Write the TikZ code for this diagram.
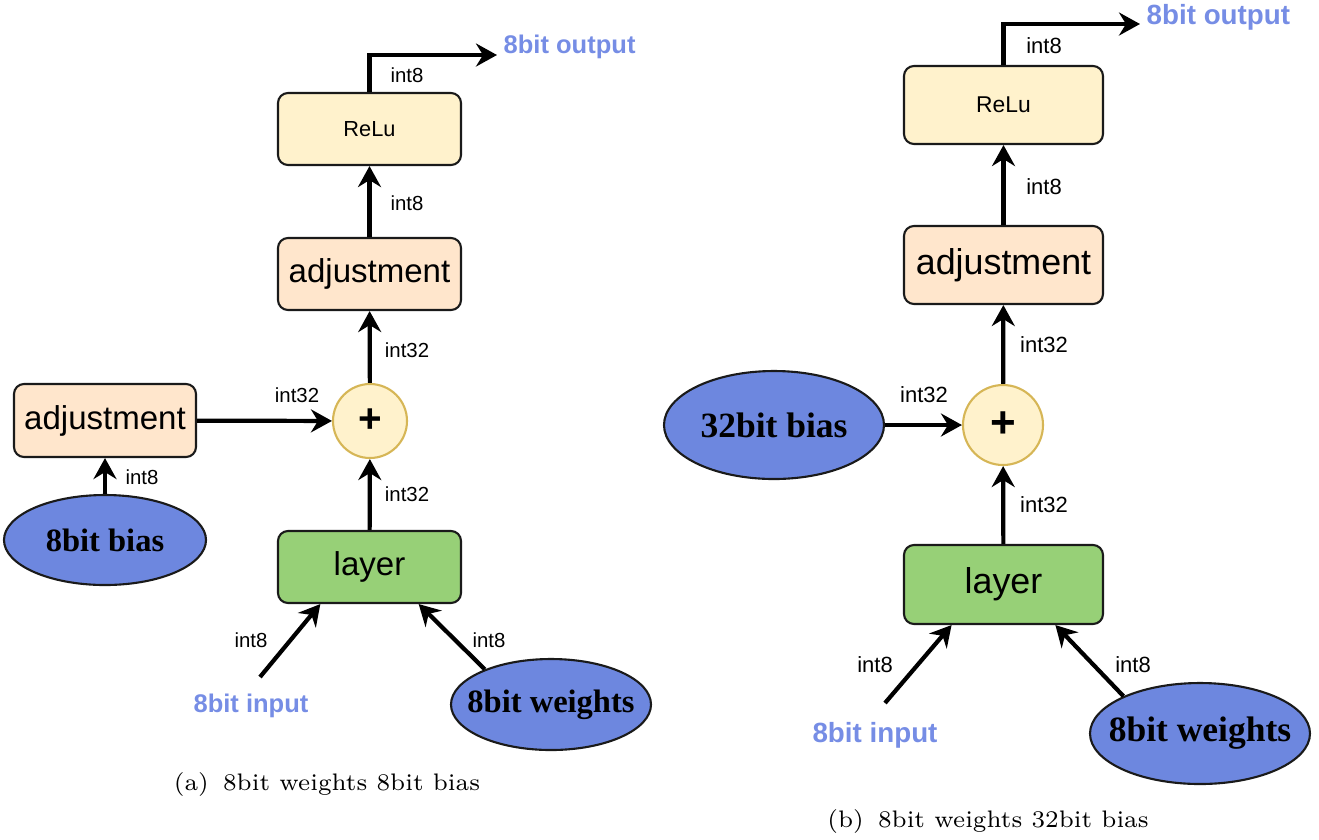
\documentclass[tikz,border=0pt]{standalone}
\usepackage{fontspec}
\newfontfamily\arialf{Liberation Sans}
\newfontfamily\timesf{Liberation Serif}
\usetikzlibrary{arrows.meta,shapes.geometric}
\definecolor{adjfill}{HTML}{FFE6CC}
\definecolor{relufill}{HTML}{FFF2CC}
\definecolor{layerfill}{HTML}{97D077}
\definecolor{plusline}{HTML}{D6B656}
\definecolor{srcfill}{HTML}{6D87DF}
\definecolor{bluetxt}{HTML}{768DE5}
\definecolor{boxline}{HTML}{1A1A1A}
\begin{document}
\begin{tikzpicture}[x=1cm, y=-1cm, >={Stealth[length=2.1mm,width=2.3mm,inset=0.7mm]},
	box/.style={rectangle, draw=boxline, line width=0.6pt, rounded corners=1mm, inner sep=0pt},
	txt/.style={font=\arialf\fontsize{#1}{#1}\selectfont},
	lbl/.style={font=\arialf\fontsize{#1}{#1}\selectfont, inner sep=0pt},
	src/.style={ellipse, draw=boxline, fill=srcfill, line width=0.6pt, inner sep=0pt},
	srctxt/.style={inner sep=0pt, font=\timesf\bfseries\fontsize{#1}{#1}\selectfont},
	blu/.style={text=bluetxt, font=\arialf\bfseries\fontsize{#1}{#1}\selectfont, inner sep=0pt},
	plus/.style={circle, draw=plusline, fill=relufill, line width=0.6pt, inner sep=0pt, font=\arialf\bfseries\fontsize{#1}{#1}\selectfont},
	captxt/.style={font=\fontsize{6.8}{6.8}\selectfont, inner sep=0pt},
	arr/.style={->, line width=1.2pt}]
	\useasboundingbox (0,0) rectangle (13.19,8.39);
	% (a) 8bit weights 8bit bias
	\node[box, fill=relufill, minimum width=1.83cm, minimum height=0.72cm, txt=6.2] (reluA) at (3.695,1.29) {ReLu};
	\node[box, fill=adjfill, minimum width=1.83cm, minimum height=0.72cm, txt=9.4] (adjA) at (3.695,2.74) {adjustment};
	\node[plus=11.5, minimum size=0.74cm] (plusA) at (3.70,4.21) {+};
	\node[box, fill=adjfill, minimum width=1.82cm, minimum height=0.73cm, txt=9.4] (adjbA) at (1.05,4.205) {adjustment};
	\node[src, minimum width=2.02cm, minimum height=0.90cm, label={[srctxt=9.25]center:8bit bias}] (biasA) at (1.05,5.40) {};
	\node[box, fill=layerfill, minimum width=1.83cm, minimum height=0.72cm, txt=9.4] (layerA) at (3.695,5.67) {layer};
	\node[src, minimum width=2.00cm, minimum height=0.91cm, label={[srctxt=9.25]center:8bit weights}] (wA) at (5.51,7.045) {};
	\node[blu=7.26] (inA) at (2.51,7.06) {8bit input};
	\node[blu=7.26, anchor=west] (outtxtA) at (5.03,0.47) {8bit output};
	\coordinate (instartA) at (2.60,6.77);
	\coordinate (outA) at (4.97,0.55);
	\draw[arr] (reluA.north) |- (outA);
	\draw[arr] (adjA) -- (reluA);
	\draw[arr] (plusA) -- (adjA);
	\draw[arr] (adjbA) -- (plusA);
	\draw[arr] (biasA) -- (adjbA);
	\draw[arr] (layerA) -- (plusA);
	\draw[arr] (instartA) -- (layerA.217);
	\draw[arr] (wA.152) -- (layerA.323);
	\node[lbl=5.8] (l1A) at (4.07,0.75) {int8};
	\node[lbl=5.8] (l2A) at (4.07,2.03) {int8};
	\node[lbl=5.8] (l3A) at (4.07,3.50) {int32};
	\node[lbl=5.8] (l4A) at (2.97,3.95) {int32};
	\node[lbl=5.8] (l5A) at (1.42,4.77) {int8};
	\node[lbl=5.8] (l6A) at (4.07,4.94) {int32};
	\node[lbl=5.8] (l7A) at (2.51,6.40) {int8};
	\node[lbl=5.8] (l8A) at (4.89,6.40) {int8};
	\node[captxt] (capA) at (3.27,7.84) {(a)\hspace{0.6em}8bit weights 8bit bias};
	% (b) 8bit weights 32bit bias
	\node[box, fill=relufill, minimum width=1.99cm, minimum height=0.78cm, txt=6.5] (reluB) at (10.035,1.05) {ReLu};
	\node[box, fill=adjfill, minimum width=1.99cm, minimum height=0.78cm, txt=10.2] (adjB) at (10.035,2.65) {adjustment};
	\node[plus=12.5, minimum size=0.80cm] (plusB) at (10.03,4.25) {+};
	\node[src, minimum width=2.20cm, minimum height=1.08cm, label={[srctxt=10.1]center:32bit bias}] (biasB) at (7.74,4.25) {};
	\node[box, fill=layerfill, minimum width=1.99cm, minimum height=0.79cm, txt=10.2] (layerB) at (10.035,5.845) {layer};
	\node[src, minimum width=2.20cm, minimum height=1.01cm, label={[srctxt=10.1]center:8bit weights}] (wB) at (12.00,7.335) {};
	\node[blu=7.9] (inB) at (8.75,7.35) {8bit input};
	\node[blu=7.9, anchor=west] (outtxtB) at (11.46,0.17) {8bit output};
	\coordinate (instartB) at (8.85,7.03);
	\coordinate (outB) at (11.40,0.24);
	\draw[arr] (reluB.north) |- (outB);
	\draw[arr] (adjB) -- (reluB);
	\draw[arr] (plusB) -- (adjB);
	\draw[arr] (biasB) -- (plusB);
	\draw[arr] (layerB) -- (plusB);
	\draw[arr] (instartB) -- (layerB.218);
	\draw[arr] (wB.154) -- (layerB.322);
	\node[lbl=6.26] (l1B) at (10.44,0.46) {int8};
	\node[lbl=6.26] (l2B) at (10.44,1.87) {int8};
	\node[lbl=6.26] (l3B) at (10.44,3.45) {int32};
	\node[lbl=6.26] (l4B) at (9.24,3.95) {int32};
	\node[lbl=6.26] (l6B) at (10.44,5.05) {int32};
	\node[lbl=6.26] (l7B) at (8.75,6.65) {int8};
	\node[lbl=6.26] (l8B) at (11.33,6.65) {int8};
	\node[captxt] (capB) at (9.88,8.21) {(b)\hspace{0.6em}8bit weights 32bit bias};
\end{tikzpicture}
\end{document}
